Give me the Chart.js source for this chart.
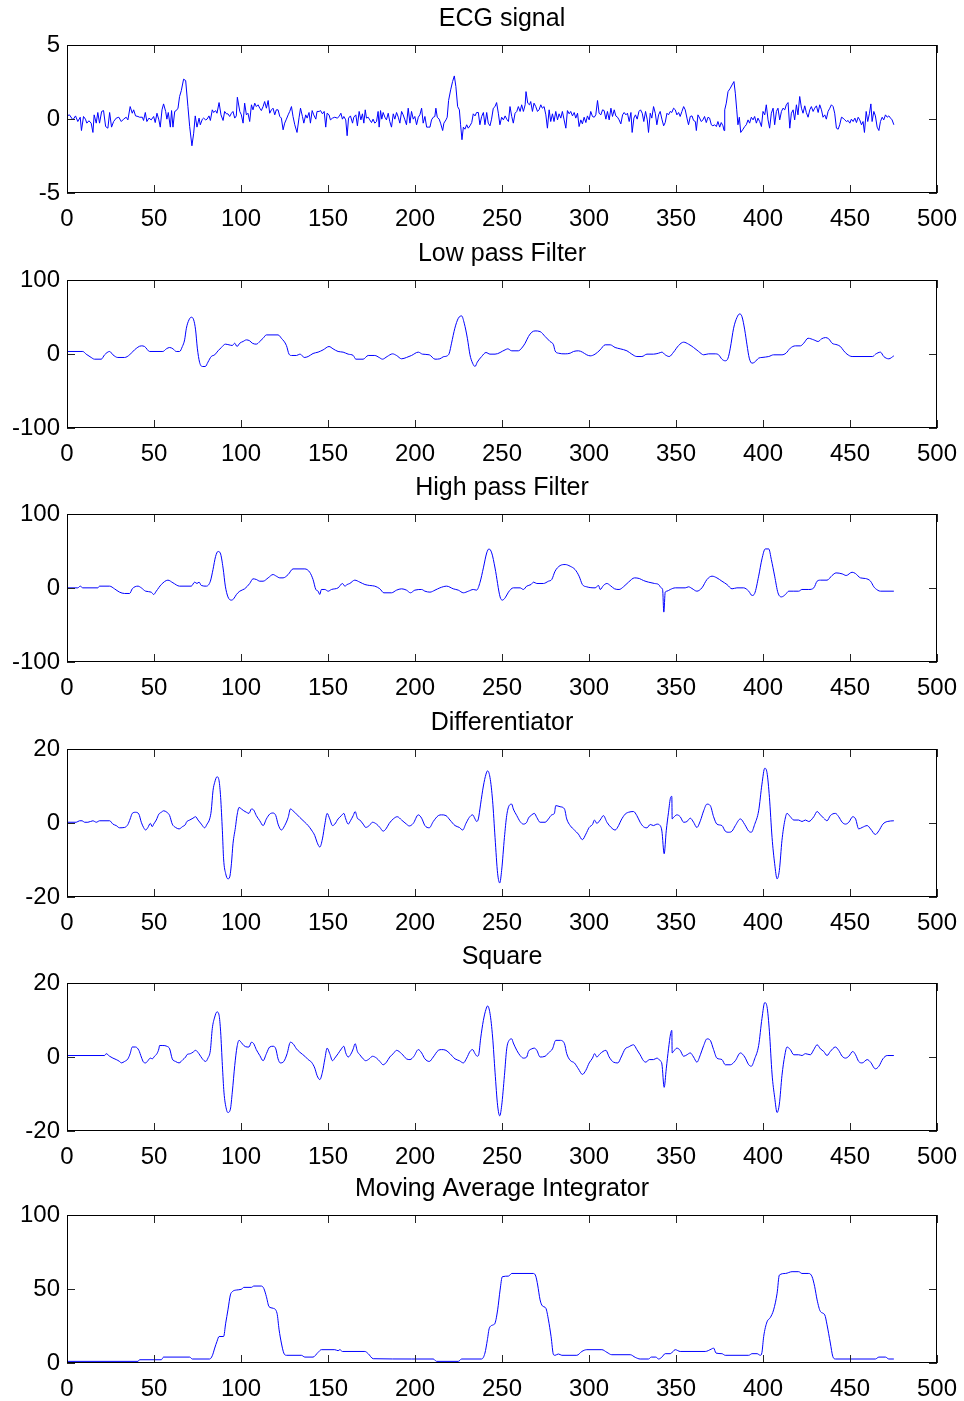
<!DOCTYPE html>
<html><head><meta charset="utf-8">
<script src="https://cdn.jsdelivr.net/npm/chart.js@4.4.0/dist/chart.umd.min.js"></script>
<style>
html,body{margin:0;padding:0;background:#fff;width:964px;height:1401px;overflow:hidden;position:relative;}
canvas{position:absolute;left:0;}
</style></head><body>
<script>
const titles = ["ECG signal","Low pass Filter","High pass Filter","Differentiator","Square","Moving Average Integrator"];
const xTicks = [0,50,100,150,200,250,300,350,400,450,500];
const yTicks = [[-5,0,5],[-100,0,100],[-100,0,100],[-20,0,20],[-20,0,20],[0,50,100]];

const ecgSignal = [[0,0.21],[1.4,0.28],[3.4,-0.06],[4.9,0.21],[6.2,-0.17],[7.6,0.12],[8.3,-0.78],[9.5,0.17],[10.6,-0.01],[11.4,-0.28],[12.6,-0.12],[13.9,-0.28],[14.9,-0.91],[15.6,0.28],[16.8,-0.28],[17.7,0.44],[18.7,-0.28],[19.9,0.51],[21.0,0.57],[22.2,-0.51],[23.5,-0.62],[24.5,0.44],[25.6,-0.55],[26.8,-0.17],[28.3,0.06],[29.8,0.12],[31.2,-0.17],[32.5,-0.01],[34.0,0.12],[35.0,-0.06],[36.3,0.84],[37.5,0.39],[38.3,0.62],[39.4,0.21],[40.8,0.17],[41.7,0.12],[43.3,0.12],[44.0,-0.1],[45.0,0.44],[45.9,-0.17],[47.1,0.06],[48.4,-0.06],[49.8,0.17],[50.7,-0.24],[51.7,0.39],[52.8,-0.06],[53.6,-0.55],[54.6,0.62],[55.5,1.02],[56.7,0.51],[57.4,-0.01],[58.2,0.44],[59.4,-0.55],[60.1,0.57],[60.9,-0.55],[61.9,0.51],[62.8,0.57],[63.8,0.73],[64.7,1.52],[65.7,1.92],[67.0,2.69],[68.2,2.6],[69.5,0.84],[70.5,-0.51],[71.8,-1.81],[72.8,-0.96],[73.7,0.21],[74.7,-0.55],[75.9,0.06],[76.6,-0.39],[77.8,-0.01],[78.5,0.06],[79.7,-0.06],[80.5,-0.01],[81.6,0.21],[82.4,-0.1],[83.5,0.62],[84.3,0.44],[85.4,0.57],[86.2,0.39],[87.4,1.11],[88.5,0.28],[89.7,-0.1],[90.6,0.51],[91.6,0.35],[92.5,0.35],[93.5,0.17],[94.5,0.39],[95.4,0.51],[96.4,0.06],[97.3,0.21],[97.9,1.47],[99.3,0.51],[100.2,0.28],[101.2,-0.28],[102.1,1.07],[103.1,0.28],[104.0,0.39],[105.0,-0.17],[106.0,0.96],[106.9,0.62],[107.9,1.07],[108.8,0.84],[109.8,0.96],[110.8,0.73],[111.7,0.57],[112.7,0.84],[113.6,1.18],[114.6,0.73],[115.6,1.25],[116.5,0.39],[117.5,0.62],[118.4,0.73],[119.4,0.28],[120.3,0.62],[121.3,0.62],[122.3,0.17],[123.2,0.06],[124.2,-0.73],[125.1,-0.28],[126.1,-0.01],[127.1,0.28],[128.0,0.51],[129.0,0.84],[129.9,0.17],[130.9,-0.39],[132.2,-0.91],[133.4,0.12],[134.2,0.73],[135.3,0.17],[136.1,-0.28],[137.2,0.28],[138.0,0.06],[139.1,0.44],[139.9,-0.28],[140.9,0.57],[141.8,0.28],[143.0,-0.01],[143.7,0.51],[144.9,0.51],[145.7,0.57],[146.8,0.35],[147.8,0.51],[148.7,-0.55],[149.5,0.39],[150.6,0.28],[151.4,-0.06],[152.6,0.06],[153.9,0.12],[155.3,0.06],[156.4,0.17],[157.4,0.39],[158.3,-0.01],[159.1,0.17],[160.2,-0.06],[161.0,-1.13],[161.8,0.06],[162.9,0.21],[164.1,-0.28],[164.8,0.12],[166.0,0.28],[166.9,-0.46],[167.9,0.51],[168.9,-0.06],[169.8,0.35],[170.6,-0.28],[171.4,0.62],[172.1,0.06],[173.1,0.12],[174.0,-0.06],[175.0,-0.24],[175.9,-0.01],[176.9,-0.28],[177.9,-0.17],[178.8,0.51],[179.4,-0.55],[180.2,0.57],[180.9,-0.01],[181.7,0.44],[182.7,0.12],[183.6,-0.06],[184.6,0.39],[185.5,-0.17],[186.5,-0.55],[187.5,0.35],[188.4,-0.01],[189.4,0.44],[190.4,0.12],[191.3,-0.28],[192.3,0.51],[193.2,0.28],[194.2,-0.06],[195.1,-0.39],[196.1,0.73],[197.1,-0.28],[198.0,0.51],[199.0,-0.01],[199.9,0.17],[200.9,-0.39],[201.9,0.12],[202.8,0.28],[203.8,0.73],[204.7,-0.28],[205.7,0.17],[206.7,-0.55],[207.6,-0.55],[208.6,-0.55],[209.5,-0.06],[210.5,0.12],[211.4,0.17],[212.0,0.73],[212.8,0.12],[213.9,-0.01],[214.7,-0.28],[215.9,-0.78],[216.6,-0.28],[217.8,-0.06],[218.5,0.12],[219.3,1.25],[220.5,1.97],[221.6,2.53],[222.6,2.91],[223.5,2.19],[224.5,0.84],[225.5,0.62],[226.2,-0.39],[227.0,-1.4],[227.8,-0.55],[228.7,-0.69],[229.7,-0.39],[230.6,-0.62],[231.6,-0.46],[232.6,-0.24],[233.5,0.35],[234.5,0.21],[235.4,0.44],[236.4,0.44],[237.3,-0.39],[238.3,0.17],[239.3,0.44],[240.2,-0.39],[241.2,0.44],[242.1,-0.28],[243.1,-0.46],[244.0,-0.01],[245.0,0.73],[246.0,0.84],[246.9,1.11],[247.9,0.39],[248.8,-0.39],[249.8,0.12],[250.8,-0.06],[251.8,0.21],[252.7,-0.01],[253.7,-0.17],[254.6,0.84],[255.6,0.17],[256.5,-0.28],[257.5,0.39],[258.5,0.51],[259.4,0.84],[260.4,0.51],[261.3,0.96],[262.3,0.51],[263.3,0.96],[263.8,1.85],[264.8,1.07],[265.8,0.96],[266.5,1.18],[267.5,0.51],[268.4,1.07],[269.4,0.84],[270.4,0.51],[271.3,0.62],[272.3,0.96],[273.2,0.73],[274.2,0.84],[275.2,0.28],[276.1,-0.62],[277.1,0.62],[278.0,-0.17],[279.0,0.35],[279.9,-0.17],[280.9,0.51],[281.9,-0.06],[282.8,0.35],[283.8,0.06],[284.7,0.51],[285.7,-0.06],[286.7,-0.62],[287.6,0.57],[288.6,0.35],[289.5,0.51],[290.5,0.21],[291.5,0.44],[292.4,0.06],[293.4,0.39],[294.3,-0.51],[295.3,-0.06],[296.2,-0.33],[297.2,0.12],[298.2,-0.24],[299.1,0.21],[300.1,-0.06],[301.0,0.51],[302.0,0.17],[303.0,0.12],[303.9,0.28],[304.9,1.25],[305.8,0.39],[306.8,0.28],[307.8,0.62],[308.7,0.57],[309.7,-0.01],[310.6,0.51],[311.6,-0.06],[312.6,0.73],[313.5,0.17],[314.5,0.62],[315.4,0.21],[316.4,0.12],[317.3,-0.06],[318.3,-0.33],[319.3,0.28],[320.2,0.44],[321.2,0.28],[322.1,0.39],[323.1,-0.17],[324.1,0.44],[324.8,-0.91],[325.8,0.06],[326.7,0.28],[327.7,-0.01],[328.7,0.51],[329.6,0.62],[330.6,0.39],[331.5,-0.17],[332.5,0.51],[333.5,-0.06],[334.2,-0.91],[335.2,0.39],[336.1,0.06],[337.1,0.84],[338.1,0.39],[339.0,-0.39],[340.0,0.28],[340.9,0.51],[341.9,-0.01],[342.9,-0.46],[343.8,-0.24],[344.8,0.39],[345.7,0.28],[346.7,0.51],[347.6,0.44],[348.6,0.73],[349.6,0.62],[350.5,0.28],[351.5,0.44],[352.4,0.17],[353.4,0.51],[354.4,0.84],[355.3,0.62],[356.3,0.06],[357.2,-0.39],[358.2,0.17],[359.2,0.21],[360.1,-0.1],[361.1,-0.17],[361.7,-0.78],[362.6,0.28],[363.6,0.06],[364.5,-0.17],[365.5,-0.06],[366.4,0.17],[367.4,-0.24],[368.4,0.12],[369.3,0.06],[370.3,-0.39],[371.2,-0.46],[372.2,-0.39],[373.2,-0.51],[374.1,-0.17],[375.1,-0.55],[376.0,-0.24],[377.0,-0.46],[377.6,-0.78],[378.0,0.62],[378.9,1.07],[379.9,1.85],[381.2,2.08],[382.2,2.3],[383.3,2.53],[384.1,1.74],[384.9,0.62],[385.6,-0.39],[386.4,0.12],[387.2,-0.91],[388.3,-0.73],[389.5,-0.51],[390.4,-0.39],[391.4,-0.06],[392.3,-0.28],[393.3,0.12],[394.3,-0.06],[395.2,0.17],[396.2,-0.28],[397.1,0.06],[398.1,-0.17],[399.1,-0.51],[400.0,0.51],[401.0,0.28],[401.9,0.96],[402.9,-0.06],[403.8,-0.62],[404.8,0.39],[405.8,0.73],[406.7,-0.39],[407.7,0.51],[408.6,0.73],[409.6,-0.06],[410.6,0.51],[411.5,0.73],[412.5,0.62],[413.4,0.96],[414.4,1.11],[415.4,-0.62],[416.3,0.39],[417.3,0.62],[418.2,-0.06],[419.2,0.96],[420.1,0.28],[421.1,1.52],[422.1,0.73],[423.0,0.39],[424.0,0.89],[424.9,0.44],[425.9,0.12],[426.9,0.62],[427.8,0.84],[428.8,0.51],[429.7,0.73],[430.7,0.89],[431.7,0.44],[432.6,0.96],[433.6,0.62],[434.5,0.12],[435.5,0.28],[436.4,-0.01],[437.4,0.51],[438.4,0.73],[439.3,0.96],[440.3,0.84],[441.2,0.39],[442.2,-0.62],[443.2,-0.69],[444.1,-0.39],[445.1,0.12],[446.0,0.06],[447.0,-0.06],[448.0,-0.17],[448.9,-0.1],[449.9,-0.28],[450.8,-0.01],[451.8,-0.17],[452.8,0.06],[453.7,-0.24],[454.7,0.12],[455.6,-0.06],[456.6,-0.39],[457.5,-0.17],[458.3,-0.91],[459.3,0.51],[460.2,-0.17],[461.2,0.39],[462.0,1.02],[462.7,-0.17],[463.7,0.51],[464.6,0.21],[465.6,-0.55],[466.6,-0.78],[467.5,-0.17],[468.5,0.12],[469.4,-0.06],[470.4,0.28],[471.4,0.12],[472.3,0.21],[473.3,0.06],[474.2,-0.06],[475.2,-0.39]];

const lowPass = [[0,2.5],[0.5,3.4],[9.1,3.4],[11.0,-0.2],[13.9,-4.7],[15.8,-7.0],[19.7,-7.0],[21.6,-1.1],[24.5,3.4],[26.4,-1.1],[29.2,-4.7],[33.1,-4.7],[36.0,-1.1],[38.8,5.6],[42.7,11.0],[44.6,10.1],[47.5,3.4],[55.1,3.4],[57.1,7.0],[59.0,8.8],[60.9,7.0],[62.8,3.4],[64.7,3.4],[66.3,10.1],[67.6,19.1],[68.6,34.8],[70.1,46.1],[71.4,49.7],[72.8,46.1],[73.9,32.6],[74.9,7.9],[76.2,-11.2],[77.8,-16.9],[79.5,-16.9],[81.0,-11.0],[82.9,-3.4],[84.9,-1.1],[86.8,4.3],[88.7,8.8],[91.0,13.3],[93.1,12.4],[95.0,11.5],[96.4,14.6],[97.7,10.1],[99.3,14.6],[101.2,16.9],[103.1,19.1],[105.0,17.8],[106.5,14.6],[108.8,13.3],[110.8,16.9],[112.7,21.3],[114.6,25.8],[121.3,25.8],[123.2,21.3],[126.1,11.5],[127.6,-0.2],[129.0,-2.0],[131.9,-2.0],[133.8,-0.2],[134.7,-1.1],[136.3,-4.7],[138.6,-3.4],[141.4,0.7],[144.3,2.5],[147.2,5.6],[150.6,10.1],[152.9,7.0],[155.8,3.4],[158.7,2.5],[161.6,-0.2],[164.5,-2.0],[166.0,-7.0],[170.2,-7.0],[173.1,-2.0],[176.9,-2.0],[179.4,-4.7],[181.3,-7.0],[184.0,-3.4],[187.1,0.2],[189.4,-2.0],[192.3,-6.5],[195.1,-4.7],[198.0,-2.0],[201.9,2.5],[204.3,-0.2],[208.2,-1.1],[211.5,-7.0],[214.3,-6.5],[216.2,-3.8],[218.5,-2.5],[219.7,1.1],[221.0,14.6],[222.9,34.8],[224.9,48.3],[226.8,51.5],[228.3,41.6],[230.1,21.3],[231.6,-1.1],[233.1,-12.4],[234.5,-16.9],[235.8,-11.0],[238.3,-3.4],[240.8,2.0],[243.1,-0.2],[246.0,-0.2],[251.8,5.6],[253.3,7.0],[255.6,4.3],[259.4,4.3],[261.3,7.9],[263.3,14.6],[265.2,23.6],[267.1,29.4],[269.0,31.2],[271.9,30.3],[274.8,23.6],[277.6,16.9],[279.6,12.4],[280.5,4.3],[282.4,1.1],[286.3,0.2],[289.2,1.1],[291.1,3.4],[294.0,4.3],[296.2,2.5],[298.7,-1.1],[300.7,-2.5],[303.5,-0.2],[306.4,5.6],[309.3,12.4],[312.2,12.4],[315.0,8.8],[317.9,7.0],[321.8,4.3],[324.6,-0.2],[327.5,-3.4],[330.4,-3.4],[333.3,-0.2],[337.1,-0.2],[340.0,1.1],[341.9,2.5],[343.8,-1.1],[346.1,-3.4],[348.6,2.5],[351.5,11.5],[354.4,16.0],[357.2,13.3],[360.1,8.8],[363.0,3.4],[365.9,-1.1],[368.7,0.2],[372.6,0.2],[374.5,-1.1],[376.4,-7.0],[378.3,-9.2],[379.9,-5.6],[381.2,7.9],[383.1,34.8],[385.0,49.2],[386.6,54.2],[387.9,50.6],[389.5,32.6],[390.8,12.4],[392.1,-5.6],[393.7,-12.4],[395.2,-11.0],[397.5,-5.6],[399.4,-4.7],[403.3,-3.4],[406.1,-1.1],[410.9,-1.1],[413.2,1.1],[415.7,7.9],[418.6,11.0],[421.5,11.0],[423.4,14.6],[425.9,21.3],[429.2,19.1],[431.7,16.9],[433.6,20.4],[435.9,22.2],[437.8,20.4],[439.7,14.6],[442.6,12.4],[444.5,10.1],[446.4,4.3],[448.3,-0.2],[451.2,-3.4],[463.0,-3.4],[464.7,-0.2],[467.5,2.5],[469.4,-3.4],[472.3,-6.5],[475.2,-2.5]];

const highPass = [[0,0.2],[6.2,0.2],[7.6,2.5],[9.1,0.2],[17.7,0.2],[18.7,2.5],[24.5,2.5],[27.3,-1.1],[30.2,-5.6],[33.1,-7.4],[36.0,-7.4],[37.5,-1.1],[40.8,2.5],[42.7,0.2],[45.2,-4.3],[48.4,-5.6],[49.8,-8.8],[51.3,-4.3],[54.2,4.7],[58.0,10.6],[60.9,7.0],[64.7,2.5],[71.4,2.5],[73.4,7.9],[74.7,6.1],[75.9,7.9],[77.2,3.4],[80.1,2.5],[82.4,9.2],[83.9,24.9],[85.4,42.7],[86.8,49.4],[88.1,47.2],[89.7,27.0],[91.0,2.5],[92.5,-12.0],[94.5,-16.4],[95.8,-14.6],[97.3,-9.0],[99.3,-4.3],[102.1,-1.1],[105.0,6.1],[106.9,12.4],[108.8,11.5],[110.8,9.2],[112.7,9.2],[115.6,13.7],[118.4,18.2],[120.3,16.0],[122.3,13.7],[124.2,13.7],[127.1,18.2],[129.9,25.8],[136.7,25.8],[139.5,21.3],[141.4,11.5],[143.0,-2.0],[144.3,-4.3],[145.3,-8.8],[146.2,-2.0],[148.2,-2.0],[150.1,-4.3],[152.0,-2.0],[155.8,0.2],[158.3,6.1],[159.7,2.5],[161.0,4.7],[162.5,6.1],[165.4,10.6],[168.3,7.9],[171.2,4.7],[174.0,3.4],[176.9,2.5],[179.8,-1.1],[182.1,-6.5],[186.5,-6.5],[189.4,-2.9],[192.3,-1.1],[195.1,-2.9],[197.4,-6.5],[199.9,-2.9],[203.8,-2.0],[205.7,-4.3],[208.6,-5.6],[211.5,-2.9],[214.3,0.2],[218.2,2.5],[222.0,-1.1],[224.9,-2.9],[227.8,-6.5],[230.7,-4.3],[233.5,-2.0],[235.4,-2.9],[237.4,7.9],[239.3,27.2],[241.2,47.4],[242.5,52.8],[244.1,47.4],[246.0,27.0],[248.9,-12.0],[250.2,-16.4],[251.8,-13.3],[253.7,-5.6],[256.5,0.2],[260.4,0.2],[262.3,-2.0],[264.2,2.5],[266.7,4.7],[268.1,7.9],[270.0,6.1],[273.8,6.1],[276.7,9.2],[278.6,11.5],[280.5,22.7],[283.4,30.3],[286.3,31.7],[289.2,29.4],[292.0,24.9],[294.3,16.0],[296.2,4.7],[298.7,1.6],[303.5,0.2],[305.5,3.4],[306.4,-2.0],[308.3,3.4],[310.3,6.1],[312.2,3.4],[314.7,-1.1],[317.3,-2.0],[319.8,1.6],[322.7,7.9],[326.2,13.7],[328.9,12.8],[331.3,10.1],[334.2,7.9],[337.7,6.1],[340.0,4.7],[341.5,0.2],[342.3,-2.0],[343.0,-32.6],[343.8,-5.6],[344.8,-4.3],[346.7,-2.0],[349.6,0.2],[355.3,0.2],[357.2,1.6],[359.2,-0.7],[362.0,-4.3],[364.9,0.2],[367.8,11.5],[370.7,16.0],[373.5,13.7],[376.4,9.2],[379.3,4.7],[382.2,-1.1],[385.0,0.2],[388.9,0.2],[391.8,-4.3],[393.7,-10.1],[395.2,-7.4],[397.5,16.0],[399.4,39.3],[401.3,52.8],[403.3,52.8],[404.8,38.4],[406.7,16.0],[408.6,-6.5],[410.6,-12.0],[412.9,-8.8],[414.8,-4.3],[417.7,-4.3],[420.5,-4.3],[422.4,-2.0],[426.3,-2.0],[429.2,0.2],[431.1,9.2],[433.0,10.6],[436.8,10.6],[439.7,16.9],[442.0,20.4],[445.5,19.1],[447.8,16.9],[451.2,21.3],[453.1,19.6],[456.0,13.7],[458.9,12.8],[461.8,9.2],[463.7,1.6],[464.6,-0.7],[467.5,-4.3],[475.2,-4.3]];

const differentiator = [[0,0.2],[5.3,0.2],[7.2,0.6],[8.7,0.6],[10.1,0.2],[12.0,0.2],[14.9,0.6],[15.9,0.4],[16.8,0.2],[17.8,0.4],[18.7,0.6],[24.5,0.6],[26.4,-0.3],[28.3,-0.7],[30.2,-1.3],[33.1,-1.2],[35.0,-0.4],[36.3,1.1],[37.5,2.6],[39.4,2.9],[41.3,2.4],[42.7,0.2],[44.0,-1.2],[45.2,-1.9],[46.5,-1.2],[47.9,-0.1],[49.0,-1.0],[49.8,-0.3],[51.3,0.8],[52.8,2.4],[54.2,2.9],[55.5,3.3],[57.4,2.9],[59.0,2.0],[60.5,-0.3],[62.4,-1.2],[64.4,-1.6],[66.3,-1.0],[68.2,-0.3],[68.6,0.2],[70.5,0.8],[72.4,1.3],[73.9,1.7],[75.3,0.8],[77.2,-0.3],[79.1,-1.3],[80.5,-0.3],[82.0,1.1],[82.9,3.3],[83.9,8.7],[84.9,11.0],[86.2,12.5],[87.4,11.4],[88.3,6.9],[89.3,-2.1],[90.0,-9.7],[91.2,-13.7],[92.5,-15.1],[93.5,-14.6],[94.5,-11.0],[95.4,-5.6],[96.8,-1.2],[97.7,2.0],[98.9,4.2],[100.2,3.8],[101.6,3.3],[103.1,2.9],[104.6,2.6],[106.0,3.8],[107.3,3.5],[108.8,2.0],[110.8,0.6],[112.7,-0.7],[114.6,1.1],[116.5,2.4],[118.4,2.7],[120.0,2.0],[121.3,-0.3],[123.2,-1.9],[125.1,-0.7],[127.1,1.5],[128.4,3.8],[129.9,3.3],[131.9,2.4],[133.8,1.5],[136.7,0.2],[138.6,-0.7],[140.5,-1.9],[142.4,-3.4],[143.7,-5.2],[145.3,-6.5],[146.8,-4.3],[148.2,-0.3],[149.5,2.6],[151.0,1.1],[152.6,-0.7],[153.9,-0.3],[155.8,1.1],[157.7,2.0],[159.1,2.6],[160.2,1.1],[161.6,-0.3],[162.9,0.6],[164.5,2.0],[165.6,3.1],[166.9,1.3],[168.3,0.8],[170.2,-0.3],[171.7,-1.2],[173.7,-0.7],[175.6,0.2],[177.9,-0.3],[179.8,-1.2],[181.7,-2.2],[183.3,-1.6],[185.2,-0.1],[187.5,1.1],[189.8,1.7],[192.3,0.8],[195.1,-0.3],[196.7,-0.8],[199.0,-0.1],[201.9,2.2],[203.8,1.3],[205.7,-0.7],[208.2,-1.3],[210.5,0.4],[213.4,2.0],[215.3,2.2],[217.8,2.0],[220.1,0.8],[223.0,-0.7],[225.5,-1.2],[227.4,-1.9],[229.3,-0.1],[231.2,1.5],[233.1,2.2],[234.5,1.1],[235.4,0.4],[236.4,1.1],[237.7,5.1],[239.3,10.0],[240.8,13.2],[241.7,14.1],[243.1,12.3],[244.6,6.0],[246.0,-3.9],[247.5,-13.7],[248.7,-16.2],[249.8,-12.8],[251.4,-3.9],[252.7,2.0],[254.1,4.7],[255.6,5.1],[256.5,3.8],[258.5,2.0],[260.4,0.4],[262.3,-0.3],[264.2,0.2],[265.2,1.3],[267.1,2.2],[268.6,2.6],[270.0,1.5],[271.9,0.2],[274.8,0.2],[276.7,1.1],[278.6,2.2],[280.1,2.6],[280.9,4.7],[283.4,4.4],[285.9,3.8],[287.2,1.1],[289.2,-0.7],[291.6,-1.9],[293.9,-3.0],[296.2,-4.5],[298.2,-3.0],[300.1,-1.2],[302.0,-0.4],[303.2,0.8],[304.5,-0.1],[306.4,0.8],[308.3,2.0],[310.3,0.2],[312.7,-1.2],[315.0,-1.9],[317.0,-0.7],[318.5,0.8],[320.8,2.4],[322.7,2.9],[325.6,3.1],[327.5,2.0],[329.4,0.2],[331.3,-1.0],[333.3,-1.3],[335.2,-0.4],[337.1,-0.7],[339.0,-0.3],[340.9,-0.7],[341.9,-2.2],[343.2,-8.3],[344.4,-2.1],[345.7,2.9],[346.9,6.9],[347.6,7.2],[347.8,1.1],[348.6,1.5],[350.5,2.2],[352.4,1.7],[354.4,0.2],[356.3,0.4],[358.2,1.3],[360.1,0.2],[362.0,-1.2],[364.0,0.6],[365.9,3.3],[367.8,5.1],[369.7,4.7],[371.6,1.7],[373.5,-0.3],[376.4,-0.7],[378.3,-2.2],[380.3,-2.5],[382.2,-2.2],[384.1,-0.7],[387.0,1.1],[389.5,-0.4],[391.8,-2.2],[393.3,-2.5],[395.2,-0.4],[397.5,3.3],[399.4,10.5],[401.0,14.8],[402.3,13.6],[403.7,6.9],[405.2,-3.9],[406.7,-11.0],[408.1,-15.1],[409.4,-12.8],[410.9,-4.7],[412.5,0.6],[413.8,2.6],[415.7,1.7],[417.7,0.8],[420.5,0.8],[422.4,0.4],[424.4,0.8],[426.3,0.4],[429.2,1.7],[431.1,3.1],[433.0,2.2],[434.9,1.3],[436.8,0.6],[438.7,2.0],[441.6,2.6],[443.5,1.7],[445.5,0.2],[447.4,-0.3],[449.3,0.2],[451.6,1.7],[453.2,1.1],[455.0,-1.6],[457.0,-1.2],[459.9,-0.7],[461.8,-1.6],[464.6,-3.1],[466.6,-2.1],[468.9,-0.3],[471.4,0.4],[475.2,0.6]];

const squared = [[0,0.4],[21.6,0.4],[22.5,0.9],[24.5,0.2],[26.4,-0.3],[28.3,-0.7],[30.2,-1.2],[31.2,-1.6],[33.1,-1.2],[35.0,-0.5],[36.3,0.9],[37.5,2.7],[39.4,2.7],[41.3,1.8],[42.7,0.0],[44.0,-1.4],[45.2,-1.6],[46.5,-1.0],[47.9,-0.3],[49.0,-0.5],[50.3,0.2],[51.7,0.9],[52.8,2.2],[53.2,3.1],[55.1,3.1],[57.4,2.9],[59.0,2.2],[60.5,-0.5],[62.4,-1.2],[64.4,-1.6],[66.6,-0.7],[68.2,0.0],[68.9,0.6],[70.9,0.9],[72.4,1.3],[73.9,1.8],[75.8,0.9],[77.8,-0.5],[79.7,-1.2],[81.0,-0.3],[82.4,1.8],[83.5,7.7],[84.9,10.8],[86.2,12.2],[87.4,11.3],[88.3,6.8],[89.3,-2.3],[90.2,-9.5],[91.6,-14.1],[92.5,-15.0],[93.9,-14.1],[95.0,-9.5],[96.4,-2.3],[97.7,2.7],[98.9,4.5],[100.2,3.9],[101.6,3.1],[103.5,2.7],[104.6,2.7],[106.0,4.0],[107.3,3.6],[108.8,2.0],[110.8,0.4],[112.7,-1.0],[114.6,0.9],[116.5,2.7],[118.4,2.9],[120.0,2.2],[121.3,-0.5],[122.6,-1.6],[124.6,-1.2],[126.5,0.9],[128.4,4.0],[129.9,3.6],[131.9,2.2],[133.8,1.3],[136.7,0.2],[138.6,-0.7],[140.5,-1.4],[142.4,-3.0],[143.7,-5.0],[145.3,-6.1],[146.8,-4.1],[148.2,-0.5],[149.5,2.4],[151.0,0.9],[152.6,-1.0],[153.9,-0.3],[155.8,0.9],[157.7,2.2],[159.1,2.9],[160.2,1.1],[161.6,0.0],[163.5,1.1],[164.5,2.2],[165.6,3.6],[166.9,1.5],[168.3,0.6],[170.2,-0.5],[171.7,-1.0],[173.7,-0.5],[175.6,0.2],[177.9,-0.3],[179.8,-1.2],[181.7,-2.1],[183.6,-1.4],[185.5,0.0],[187.5,0.9],[189.4,1.8],[192.3,0.9],[195.1,-0.5],[197.1,-0.7],[199.4,0.2],[201.9,2.0],[203.8,1.1],[205.7,-0.5],[208.2,-1.2],[210.5,0.0],[213.4,1.8],[215.3,2.0],[217.8,1.8],[220.1,0.9],[223.0,-0.5],[225.5,-1.0],[227.8,-1.6],[229.7,-0.3],[231.6,1.5],[233.1,2.0],[234.5,0.9],[235.8,0.2],[236.6,0.6],[237.7,4.9],[239.3,9.9],[240.8,12.9],[241.7,13.8],[243.1,11.8],[244.6,5.4],[246.0,-4.1],[247.5,-13.2],[248.7,-15.9],[249.8,-13.2],[251.4,-5.0],[252.7,2.2],[254.1,4.5],[255.6,4.9],[256.5,3.8],[258.5,1.8],[260.4,0.4],[262.3,-0.3],[264.2,0.0],[265.2,1.5],[267.1,2.2],[268.6,2.4],[270.0,1.8],[271.9,0.0],[274.8,0.2],[276.7,1.1],[279.0,2.2],[280.9,4.5],[283.4,4.5],[285.9,3.6],[287.2,0.9],[289.2,-0.9],[291.6,-1.6],[293.9,-3.2],[296.2,-4.7],[298.2,-3.6],[300.1,-1.6],[302.0,-0.3],[303.2,0.9],[304.5,0.0],[306.4,0.9],[309.7,1.8],[311.6,0.0],[314.1,-1.4],[316.6,-1.6],[318.5,0.0],[320.8,2.2],[322.7,2.7],[325.6,3.3],[327.5,2.0],[329.4,0.6],[331.3,-1.0],[332.7,-1.4],[334.6,-0.7],[337.1,-0.7],[339.0,-0.3],[340.9,-1.0],[341.9,-1.9],[343.2,-8.2],[344.4,-3.2],[345.7,2.2],[346.9,6.3],[347.6,7.2],[347.8,1.1],[348.6,1.5],[350.5,2.4],[352.4,1.8],[354.4,0.2],[356.3,0.6],[358.2,1.1],[360.1,0.0],[362.0,-1.4],[364.0,0.6],[365.9,3.1],[367.8,4.9],[369.7,4.5],[371.6,2.0],[373.5,-0.3],[376.4,-0.7],[378.3,-2.1],[381.2,-2.1],[384.1,-1.0],[387.0,1.1],[389.5,0.0],[391.8,-2.1],[393.3,-2.5],[395.2,-0.5],[397.5,3.1],[399.4,10.4],[401.0,14.7],[402.3,13.6],[403.7,6.8],[405.2,-4.6],[406.7,-10.9],[408.1,-15.0],[409.4,-12.7],[410.9,-5.0],[412.5,0.4],[413.8,2.7],[415.7,2.0],[417.7,0.6],[420.5,0.6],[422.4,0.4],[424.4,0.9],[427.2,0.6],[429.2,2.0],[431.1,3.3],[433.0,2.2],[434.9,1.5],[436.8,0.4],[438.7,1.5],[441.6,2.7],[443.5,1.8],[445.5,0.2],[447.4,-0.3],[449.3,0.2],[451.6,1.5],[453.2,0.6],[455.0,-1.2],[457.0,-1.6],[459.9,-0.7],[461.8,-1.4],[464.6,-3.2],[466.6,-2.5],[468.9,-0.5],[471.4,0.4],[475.2,0.4]];

const integrator = [[0,1.1],[40.8,1.1],[41.7,2.2],[54.2,2.2],[55.5,4.0],[70.5,4.0],[72.0,2.7],[82.0,2.7],[83.5,4.9],[84.9,10.1],[86.2,14.6],[87.4,17.9],[90.0,17.9],[91.2,26.9],[92.5,35.9],[93.9,46.0],[95.0,48.2],[97.3,49.3],[100.2,49.8],[101.6,51.1],[106.0,51.1],[107.3,52.0],[111.7,52.0],[113.1,50.4],[114.6,44.8],[116.1,38.1],[118.4,37.0],[120.7,33.6],[121.9,22.4],[123.2,13.5],[124.6,6.7],[126.1,5.2],[134.7,5.2],[136.7,4.0],[141.4,4.0],[144.3,7.2],[146.2,9.0],[153.9,9.0],[155.8,8.3],[156.8,9.0],[158.3,7.8],[171.2,7.8],[173.1,6.3],[176.0,2.9],[198.0,2.7],[210.5,2.7],[212.4,1.1],[224.9,1.1],[226.8,2.7],[238.3,2.7],[240.2,6.7],[241.6,15.7],[242.7,23.5],[245.0,25.8],[246.0,26.9],[247.5,35.9],[248.9,49.3],[250.2,58.3],[253.7,58.7],[255.6,60.5],[268.1,60.5],[269.4,58.7],[270.5,52.7],[271.9,42.6],[273.2,38.6],[275.2,37.0],[276.7,29.1],[278.2,17.9],[279.6,5.6],[280.5,5.2],[282.4,6.1],[284.4,5.2],[293.0,5.2],[295.9,7.8],[298.7,9.0],[307.4,9.0],[310.3,7.2],[313.1,5.6],[323.7,5.6],[326.6,3.8],[329.4,2.7],[334.2,2.7],[335.8,4.0],[338.4,4.0],[340.0,2.7],[341.9,4.0],[343.8,6.3],[346.7,6.3],[349.6,9.0],[352.4,7.8],[366.8,7.8],[370.3,9.4],[371.6,10.1],[373.0,6.7],[376.4,6.3],[378.3,5.2],[391.8,5.2],[393.7,6.3],[396.6,6.3],[398.5,5.2],[399.4,7.2],[400.4,17.9],[402.3,27.8],[404.2,30.7],[406.1,35.9],[408.1,47.1],[409.4,59.4],[412.9,60.5],[416.7,61.7],[420.5,61.7],[422.4,60.5],[426.3,60.5],[428.2,58.3],[429.7,51.6],[431.1,42.6],[433.0,34.8],[435.5,32.5],[436.8,25.8],[438.7,13.5],[440.1,4.5],[441.6,2.7],[464.6,2.7],[466.6,4.0],[470.4,4.0],[472.3,2.7],[475.2,2.7]];

const series = [ecgSignal, lowPass, highPass, differentiator, squared, integrator];
const plotTops = [45, 280, 514, 749, 983, 1215];

const FONT = "'Liberation Sans', Arial, sans-serif";

const boxPlugin = {
  id: 'boxTicks',
  afterDraw(chart) {
    const {ctx, chartArea: a, scales: {x, y}} = chart;
    ctx.save();
    ctx.lineWidth = 1;
    ctx.strokeStyle = '#262626';
    const L = 8;
    ctx.beginPath();
    x.ticks.forEach(t => {
      const px = Math.round(x.getPixelForValue(t.value)) + 0.5;
      ctx.moveTo(px, a.top); ctx.lineTo(px, a.top + L);
      ctx.moveTo(px, a.bottom); ctx.lineTo(px, a.bottom - L);
    });
    y.ticks.forEach(t => {
      const py = Math.round(y.getPixelForValue(t.value)) + 0.5;
      ctx.moveTo(a.left, py); ctx.lineTo(a.left + L, py);
      ctx.moveTo(a.right, py); ctx.lineTo(a.right - L, py);
    });
    ctx.stroke();
    ctx.strokeStyle = '#000';
    ctx.strokeRect(Math.round(a.left) + 0.5, Math.round(a.top) + 0.5,
                   Math.round(a.right - a.left) - 1, Math.round(a.bottom - a.top) - 1);
    ctx.restore();
  }
};

series.forEach((s, i) => {
  const cv = document.createElement('canvas');
  cv.width = 964; cv.height = 234;
  cv.style.top = (plotTops[i] - 45) + 'px';
  cv.style.width = '964px'; cv.style.height = '234px';
  document.body.appendChild(cv);
  const yt = yTicks[i];
  new Chart(cv, {
    type: 'line',
    data: {
      datasets: [{
        data: s.map(p => ({x: p[0], y: p[1]})),
        borderColor: '#0000ff',
        borderWidth: 1,
        pointRadius: 0,
        fill: false,
        tension: 0,
        cubicInterpolationMode: i === 0 ? 'default' : 'monotone'
      }]
    },
    options: {
      responsive: false,
      animation: false,
      devicePixelRatio: 1,
      events: [],
      layout: {padding: {left: 0, right: 27, top: 0, bottom: 0}},
      plugins: {
        legend: {display: false},
        tooltip: {enabled: false},
        title: {
          display: true,
          fullSize: false,
          text: titles[i],
          color: '#000',
          font: {family: FONT, size: 25, weight: 'normal', lineHeight: 1.2},
          padding: {top: 4, bottom: 11}
        }
      },
      scales: {
        x: {
          type: 'linear', min: xTicks[0], max: xTicks[xTicks.length - 1],
          afterBuildTicks: sc => { sc.ticks = xTicks.map(v => ({value: v})); },
          ticks: {autoSkip: false, maxRotation: 0, minRotation: 0, padding: 12,
                  color: '#000', font: {family: FONT, size: 24}},
          grid: {display: false, drawTicks: false},
          border: {display: false},
          afterFit: sc => { sc.height = 41; sc.paddingLeft = 0; sc.paddingRight = 0; }
        },
        y: {
          type: 'linear', min: yt[0], max: yt[yt.length - 1],
          afterBuildTicks: sc => { sc.ticks = yt.map(v => ({value: v})); },
          ticks: {padding: 7, color: '#000', font: {family: FONT, size: 24}},
          grid: {display: false, drawTicks: false},
          border: {display: false},
          afterFit: sc => { sc.width = 67; sc.paddingTop = 0; sc.paddingBottom = 0; }
        }
      }
    },
    plugins: [boxPlugin]
  });
});
</script>
</body></html>
